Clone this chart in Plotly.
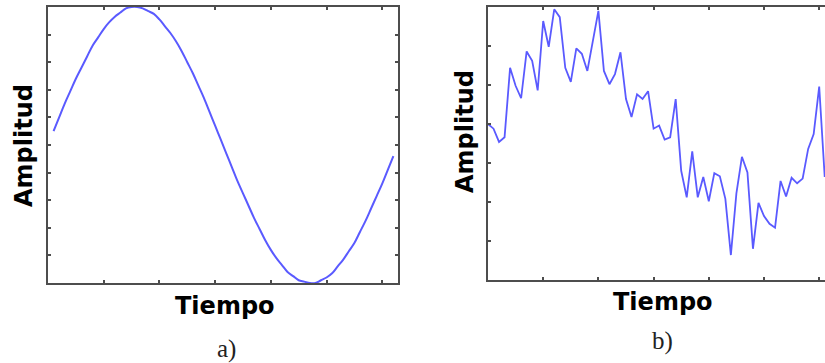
import plotly.graph_objects as go

W, H = 825, 363

# ---- data ----
# a) clean sine wave
t_a = [round(0.1 * i, 1) for i in range(1, 63)]
amp_a = [0.10, 0.20, 0.30, 0.39, 0.48, 0.56, 0.64, 0.72, 0.78, 0.84,
         0.89, 0.93, 0.96, 0.99, 1.00, 1.00, 0.99, 0.97, 0.95, 0.91,
         0.86, 0.81, 0.75, 0.68, 0.60, 0.52, 0.43, 0.34, 0.24, 0.14,
         0.04, -0.06, -0.16, -0.26, -0.35, -0.44, -0.53, -0.61, -0.69, -0.76,
         -0.82, -0.87, -0.92, -0.95, -0.98, -0.99, -1.00, -1.00, -0.98, -0.96,
         -0.93, -0.88, -0.83, -0.77, -0.71, -0.63, -0.55, -0.46, -0.37, -0.28,
         -0.18, -0.08]

# b) noisy signal
t_b = [round(0.1 * i, 1) for i in range(0, 62)]
amp_b = [0.00, -0.06, -0.23, -0.17, 0.72, 0.49, 0.33, 0.93, 0.81, 0.43,
         1.32, 0.99, 1.47, 1.37, 0.72, 0.54, 0.97, 0.90, 0.68, 1.07,
         1.45, 0.68, 0.51, 0.64, 0.92, 0.32, 0.09, 0.38, 0.32, 0.42,
         -0.06, -0.02, -0.20, -0.17, 0.32, -0.60, -0.94, -0.35, -0.94, -0.68,
         -0.99, -0.63, -0.67, -0.96, -1.68, -0.89, -0.42, -0.62, -1.60, -1.01,
         -1.18, -1.28, -1.33, -0.73, -0.93, -0.69, -0.76, -0.70, -0.32, -0.13,
         0.48, -0.68]

x_ticks = [1, 2, 3, 4, 5, 6]
y_ticks_a = [-0.8, -0.6, -0.4, -0.2, 0, 0.2, 0.4, 0.6, 0.8]
y_ticks_b = [-1.5, -1.0, -0.5, 0, 0.5, 1.0]

axis_label = "Amplitud"
time_label = "Tiempo"
panel_labels = ["a)", "b)"]

LINE = "#5a5aff"
AX = "#4d4d4d"

fig = go.Figure()
fig.add_trace(go.Scatter(x=t_a, y=amp_a, mode="lines", line=dict(color=LINE, width=2, shape="spline"),
                         xaxis="x", yaxis="y", showlegend=False, hoverinfo="skip"))
fig.add_trace(go.Scatter(x=t_b, y=amp_b, mode="lines", line=dict(color=LINE, width=1.8),
                         xaxis="x2", yaxis="y2", showlegend=False, hoverinfo="skip"))

def px_x(p):
    return p / W

def px_y(p):
    return 1 - p / H

common = dict(showgrid=False, zeroline=False, showticklabels=False, showline=True,
              linecolor=AX, linewidth=2, ticks="inside", ticklen=3, tickwidth=2, tickcolor=AX)

fig.update_layout(
    width=W, height=H, margin=dict(l=0, r=0, t=0, b=0),
    paper_bgcolor="white", plot_bgcolor="white",
    xaxis=dict(domain=[px_x(48), px_x(398)], range=[0, 6.283], tickvals=x_ticks,
               mirror="ticks", anchor="y", **common),
    yaxis=dict(domain=[px_y(283), px_y(7)], range=[-1, 1], tickvals=y_ticks_a,
               mirror="ticks", anchor="x", **common),
    xaxis2=dict(domain=[px_x(488), 1.0], range=[0, 6.105], tickvals=x_ticks,
                mirror="ticks", anchor="y2", **common),
    yaxis2=dict(domain=[px_y(280), px_y(7)], range=[-2, 1.5], tickvals=y_ticks_b,
                mirror=False, anchor="x2", **common),
)

bold = dict(family="DejaVu Sans", size=24, color="black")
serif = dict(family="Liberation Serif", size=25, color="#222")

ann = [
    dict(text="<b>" + axis_label + "</b>", x=px_x(24), y=px_y(146), textangle=-90, font=bold),
    dict(text="<b>" + time_label + "</b>", x=px_x(225), y=px_y(306), font=bold),
    dict(text="<b>" + axis_label + "</b>", x=px_x(465), y=px_y(132), textangle=-90, font=bold),
    dict(text="<b>" + time_label + "</b>", x=px_x(663), y=px_y(302), font=bold),
    dict(text=panel_labels[0], x=px_x(226), y=px_y(349), font=serif),
    dict(text=panel_labels[1], x=px_x(662), y=px_y(341), font=serif),
]
for a in ann:
    fig.add_annotation(xref="paper", yref="paper", showarrow=False,
                       xanchor="center", yanchor="middle", **a)

fig.write_html("out.html", config={"displayModeBar": False},
               post_script="document.body.style.margin='0';document.body.style.overflow='hidden';")
